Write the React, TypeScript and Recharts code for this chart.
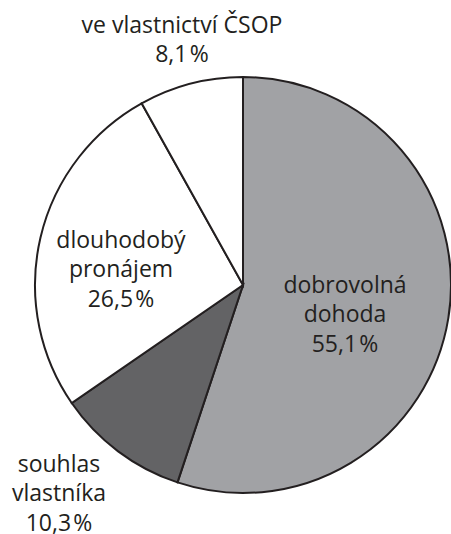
import React from "react";
import { PieChart, Pie, Cell } from "recharts";

const categories: string[][] = [
  ["dobrovolná", "dohoda"],
  ["souhlas", "vlastníka"],
  ["dlouhodobý", "pronájem"],
  ["ve vlastnictví ČSOP"],
];
const values: number[] = [55.1, 10.3, 26.5, 8.1];
const valueLabels: string[] = ["55,1\u200A%", "10,3\u200A%", "26,5\u200A%", "8,1\u200A%"];

const fills = ["#a1a2a5", "#636365", "#ffffff", "#ffffff"];
// label anchor offsets from the pie centre (first baseline)
const labelOffsets = [
  { dx: 102, dy: 8 },
  { dx: -184, dy: 187 },
  { dx: -122, dy: -37 },
  { dx: -61, dy: -252 },
];

const data = values.map((v, i) => ({ name: categories[i].join(" "), value: v }));

const TEXT = "#231f20";
const LINE_H = 29.3;

const renderLabel = (props: any) => {
  const { cx, cy, index } = props;
  const off = labelOffsets[index];
  const lines = [...categories[index], valueLabels[index]];
  return (
    <text
      key={`lbl-${index}`}
      x={cx + off.dx}
      y={cy + off.dy}
      textAnchor="middle"
      fill={TEXT}
      fontSize={23}
      fontFamily="'Open Sans', 'Noto Sans', sans-serif"
    >
      {lines.map((l, i) => (
        <tspan key={i} x={cx + off.dx} y={cy + off.dy + i * LINE_H}>
          {l}
        </tspan>
      ))}
    </text>
  );
};

export default function App() {
  return (
    <div style={{ position: "absolute", left: 0, top: 0, width: 451, height: 534, background: "#fff" }}>
      <PieChart width={451} height={534} margin={{ top: 0, right: 0, bottom: 0, left: 0 }}>
        <Pie
          data={data}
          dataKey="value"
          nameKey="name"
          cx={243}
          cy={285}
          outerRadius={208}
          innerRadius={0}
          startAngle={90}
          endAngle={-270}
          stroke={TEXT}
          strokeWidth={2}
          label={renderLabel}
          labelLine={false}
          isAnimationActive={false}
        >
          {data.map((d, i) => (
            <Cell key={d.name} fill={fills[i]} stroke={TEXT} strokeWidth={2} />
          ))}
        </Pie>
      </PieChart>
    </div>
  );
}
